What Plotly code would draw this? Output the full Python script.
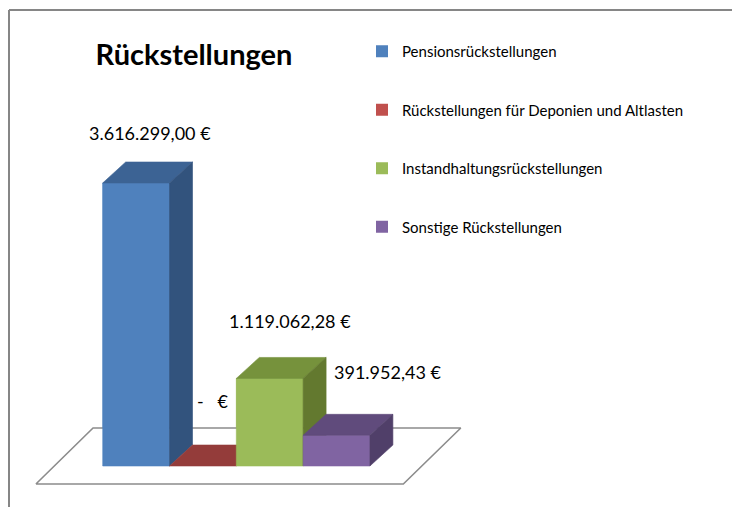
import plotly.graph_objects as go

# ──────────────────────────────────────────────
#  Daten
# ──────────────────────────────────────────────
categories = [
    "Pensionsrückstellungen",
    "Rückstellungen für Deponien und Altlasten",
    "Instandhaltungsrückstellungen",
    "Sonstige Rückstellungen",
]
values = [3616299.00, 0.00, 1119062.28, 391952.43]

front_colors = ["#4F81BD", "#C0504D", "#9BBB59", "#8064A2"]
top_colors = ["#3C6394", "#943C3A", "#76923C", "#604B7C"]
side_colors = ["#32537D", "#7E3331", "#63792F", "#503F69"]

# Beschriftungs-Versatz (Achseneinheiten) relativ zu Balkenmitte / Balkenhöhe
label_dx = [0.21, 0.15, 0.30, 0.76]
label_dy = [640000, 834000, 738000, 813000]

# 3D-Tiefe der Säulen und Bodenfläche
depth_x = 0.344
depth_y = 268000
floor_front_y, floor_back_y = -230000, 486000
floor_front_x = (-1.50, 4.00)
floor_back_x = (-0.645, 4.86)

FONT = "Lato, sans-serif"

# Seite hat 8px Body-Rand -> Figur etwas kleiner
W, H = 732, 499


def euro(v):
    if v == 0:
        return "-\u00a0\u00a0\u00a0€"
    s = f"{v:,.2f}".replace(",", "X").replace(".", ",").replace("X", ".")
    return s + "\u00a0€"


def face(xs, ys, color, line=None, width=0.6):
    return go.Scatter(
        x=xs + [xs[0]], y=ys + [ys[0]], mode="lines", fill="toself",
        fillcolor=color, line=dict(color=line or color, width=width),
        hoverinfo="skip", showlegend=False,
    )


fig = go.Figure()

# Säulen (Vorderseite, auch Legende)
for i, (cat, v) in enumerate(zip(categories, values)):
    fig.add_trace(go.Bar(
        x=[i], y=[v], width=1, name=cat, legendgroup=cat,
        marker=dict(color=front_colors[i], line=dict(width=0)),
        hovertemplate=f"{cat}<br>{euro(v)}<extra></extra>",
    ))

# Boden
fig.add_trace(face(
    [floor_front_x[0], floor_front_x[1], floor_back_x[1], floor_back_x[0]],
    [floor_front_y, floor_front_y, floor_back_y, floor_back_y],
    "white", line="#8C8C8C", width=1.6,
))

# 3D-Flächen in Zeichenreihenfolge (links -> rechts)
for i, v in enumerate(values):
    l, r = i - 0.5, i + 0.5
    if v > 0:
        fig.add_trace(face([l, r, r, l], [0, 0, v, v], front_colors[i]))
    fig.add_trace(face([l, r, r + depth_x, l + depth_x],
                       [v, v, v + depth_y, v + depth_y], top_colors[i]))
    if v > 0:
        fig.add_trace(face([r, r + depth_x, r + depth_x, r],
                           [0, depth_y, v + depth_y, v], side_colors[i]))

# Datenbeschriftungen
for i, v in enumerate(values):
    fig.add_annotation(
        x=i + label_dx[i], y=v + label_dy[i], text=euro(v), showarrow=False,
        font=dict(family=FONT, size=18, color="black"),
        xanchor="center", yanchor="middle",
    )

# Diagrammrahmen (oben und links)
fig.add_shape(type="line", xref="paper", yref="paper", x0=1 / W, x1=1.0,
              y0=1 - 2 / H, y1=1 - 2 / H, line=dict(color="#868686", width=2))
fig.add_shape(type="line", xref="paper", yref="paper", x0=1 / W, x1=1 / W,
              y0=0, y1=1 - 2 / H, line=dict(color="#868686", width=2))

fig.update_layout(
    width=W, height=H,
    margin=dict(l=0, r=0, t=0, b=0),
    paper_bgcolor="white", plot_bgcolor="white",
    barmode="overlay",
    showlegend=True,
    title=dict(text="<b>Rückstellungen</b>", x=186 / W, xanchor="center",
               y=1 - 47 / H, yanchor="middle", yref="container",
               font=dict(family=FONT, size=29, color="black")),
    legend=dict(x=354 / W, y=1 - 27 / H, xanchor="left", yanchor="top",
                tracegroupgap=36, traceorder="grouped",
                font=dict(family=FONT, size=15, color="black"),
                bgcolor="rgba(0,0,0,0)"),
    xaxis=dict(range=[-1.918, 9.040], visible=False, fixedrange=True),
    yaxis=dict(range=[-524000, 5852000], visible=False, fixedrange=True),
)

fig.write_html("out.html")
